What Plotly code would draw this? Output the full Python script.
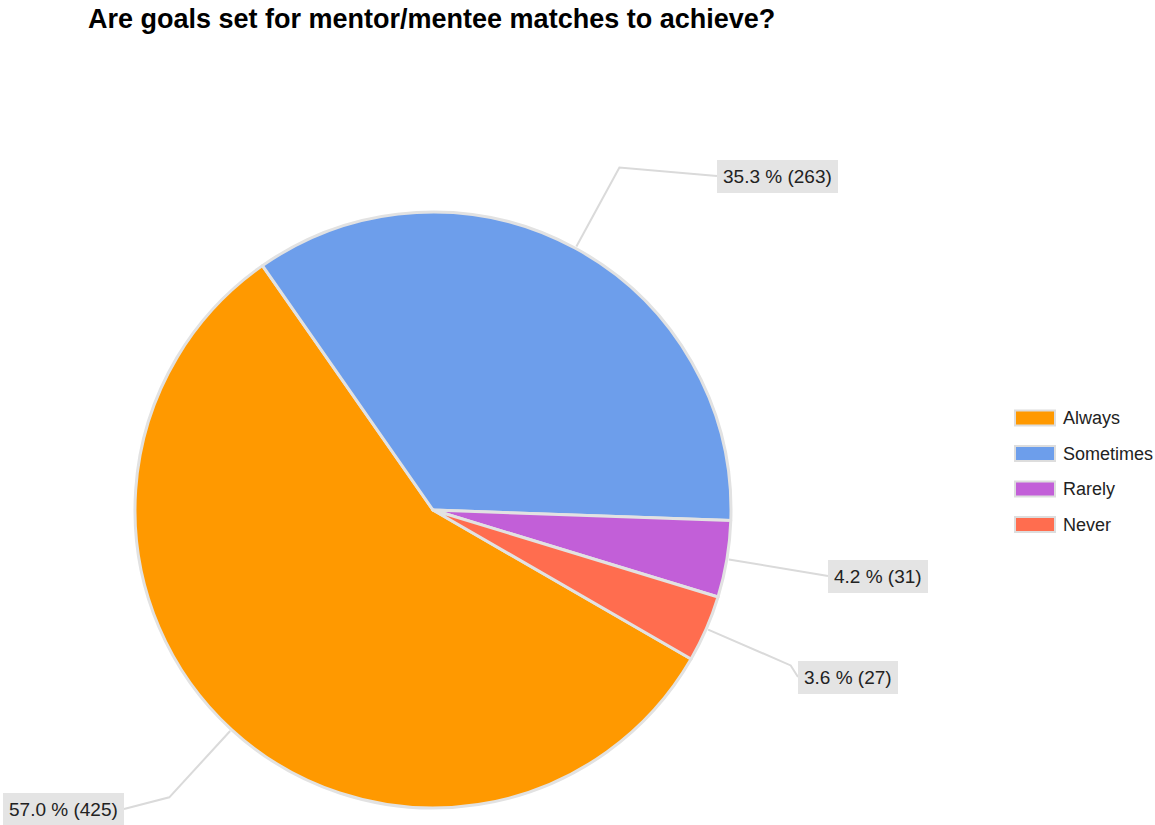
import math
import plotly.graph_objects as go

# Survey responses
categories = ["Always", "Sometimes", "Rarely", "Never"]
counts = [425, 263, 31, 27]
colors = ["#FF9900", "#6D9EEB", "#C25FD8", "#FF6D4F"]

title_text = "Are goals set for mentor/mentee matches to achieve?"

# Canvas and pie geometry (pixels)
W, H = 1155, 825
CX, CY, R = 433, 510, 298
ROTATION = 120          # start angle of the first slice, clockwise from 12 o'clock
ELBOW_R = 390           # radius where each leader line bends toward its label

# Label box anchor points (pixels) and which side of the box meets the leader line
label_anchor = [(124, 809, "right"), (717, 176, "left"), (828, 576, "left"), (798, 677, "left")]

# Legend layout (pixels)
LEG_X0, LEG_Y0, LEG_DY = 1015, 418, 35.5
SW_W, SW_H = 40, 15

FONT = "Arial, Liberation Sans, sans-serif"


def px(x):
    return x / W


def py(y):
    return 1 - y / H


fig = go.Figure(
    go.Pie(
        labels=categories,
        values=counts,
        marker=dict(colors=colors, line=dict(color="#E2E2E2", width=3)),
        sort=False,
        direction="clockwise",
        rotation=ROTATION,
        textinfo="none",
        hoverinfo="label+value+percent",
        showlegend=False,
        domain=dict(x=[px(CX - R), px(CX + R)], y=[py(CY + R), py(CY - R)]),
    )
)

total = sum(counts)
shapes = []
annotations = []

# Leader lines and value labels, placed from each slice's mid-angle
start = ROTATION
for v, (lx, ly, side) in zip(counts, label_anchor):
    span = v / total * 360
    mid = math.radians(start + span / 2)
    start += span
    x1, y1 = CX + (R + 2) * math.sin(mid), CY - (R + 2) * math.cos(mid)
    x2, y2 = CX + ELBOW_R * math.sin(mid), CY - ELBOW_R * math.cos(mid)
    path = f"M{px(x1)},{py(y1)} L{px(x2)},{py(y2)} L{px(lx)},{py(ly)}"
    shapes.append(dict(type="path", xref="paper", yref="paper", path=path,
                       line=dict(color="#DADADA", width=2), layer="below"))
    label = f"{v / total * 100:.1f} % ({v})"
    annotations.append(dict(
        x=px(lx), y=py(ly), xref="paper", yref="paper",
        xanchor=side, yanchor="middle", showarrow=False,
        text=label,
        font=dict(family=FONT, size=19, color="#222222"),
        bgcolor="#E4E4E4", bordercolor="#E4E4E4", borderwidth=1, borderpad=5,
    ))

# Legend: wide colour swatches with category names
for i, (name, col) in enumerate(zip(categories, colors)):
    yc = LEG_Y0 + i * LEG_DY
    shapes.append(dict(type="rect", xref="paper", yref="paper",
                       x0=px(LEG_X0), x1=px(LEG_X0 + SW_W),
                       y0=py(yc + SW_H / 2), y1=py(yc - SW_H / 2),
                       fillcolor=col, line=dict(color="#DDDDDD", width=2)))
    annotations.append(dict(
        x=px(LEG_X0 + SW_W + 6), y=py(yc), xref="paper", yref="paper",
        xanchor="left", yanchor="middle", showarrow=False, text=name,
        font=dict(family=FONT, size=18, color="#222222"),
    ))

fig.update_layout(
    width=W, height=H,
    margin=dict(l=0, r=0, t=0, b=0),
    paper_bgcolor="white", plot_bgcolor="white",
    title=dict(text=f"<b>{title_text}</b>", x=px(88), xanchor="left",
               y=py(19), yanchor="middle",
               font=dict(family=FONT, size=27, color="#000000")),
    shapes=shapes,
    annotations=annotations,
)

fig.write_html("out.html")
